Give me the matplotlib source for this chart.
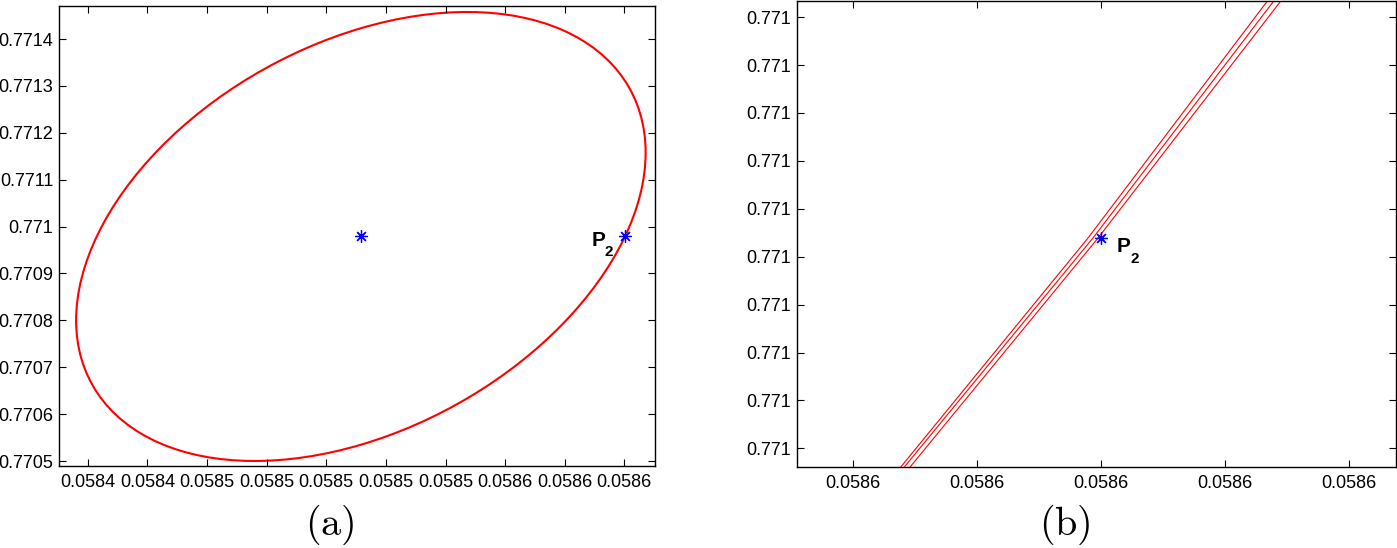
import numpy as np
import matplotlib
matplotlib.use('Agg')
import matplotlib.pyplot as plt
from matplotlib.path import Path
from matplotlib.patches import PathPatch
from matplotlib.transforms import Affine2D
from matplotlib.ticker import FuncFormatter

plt.rcParams['font.family'] = ['Liberation Sans', 'DejaVu Sans']
plt.rcParams['mathtext.fontset'] = 'cm'

# panel (a): ellipse given by centre and shape matrix (unit circle -> ellipse)
ell_center = [0.0585116, 0.7709789]
ell_shape = [[9.554e-5, 0.0],
             [1.789e-4, 4.442e-4]]
centre_pt = [0.0585116, 0.7709789]
p2_pt = [0.0586002, 0.7709789]

xa_ticks = [0.05842, 0.05844, 0.05846, 0.05848, 0.05850,
            0.05852, 0.05854, 0.05856, 0.05858, 0.05860]
ya_ticks = [0.7705, 0.7706, 0.7707, 0.7708, 0.7709,
            0.7710, 0.7711, 0.7712, 0.7713, 0.7714]
xa_lim = [0.0584103, 0.0586103]
ya_lim = [0.7704893, 0.7714706]

# panel (b): close-up around P2, three nearly overlapping traces
line_x = [[0.05860018385, 0.05860019895, 0.05860021336],
          [0.05860018414, 0.05860019935, 0.05860021387],
          [0.05860018460, 0.05860019976, 0.05860021444]]
line_y = [0.7709787084, 0.7709788996, 0.7709790967]

xb_ticks = [0.05860018, 0.05860019, 0.05860020, 0.05860021, 0.05860022]
yb_ticks = [0.770978724, 0.770978764, 0.770978804, 0.770978844, 0.770978884,
            0.770978924, 0.770978964, 0.770979004, 0.770979044, 0.770979084]
xb_lim = [0.05860017548, 0.05860022379]
yb_lim = [0.7709787084, 0.7709790975]

fmt = FuncFormatter(lambda v, p: f'{v:.4f}'.rstrip('0'))
star = (8, 2, 0)


def style_axes(ax, xt, yt, xl, yl):
    ax.set_xticks(xt)
    ax.set_yticks(yt)
    ax.set_xlim(xl)
    ax.set_ylim(yl)
    ax.xaxis.set_major_formatter(fmt)
    ax.yaxis.set_major_formatter(fmt)
    ax.tick_params(direction='in', top=True, right=True, length=5, width=0.8,
                   labelsize=13)
    ax.tick_params(axis='y', pad=4)
    ax.tick_params(axis='x', pad=6)
    for s in ax.spines.values():
        s.set_linewidth(1.0)


def label_p2(ax, pt, dp, d2):
    ax.annotate('P', xy=pt, xytext=dp, textcoords='offset points',
                ha='left', va='baseline', fontsize=15, fontweight='bold')
    ax.annotate('2', xy=pt, xytext=d2, textcoords='offset points',
                ha='left', va='baseline', fontsize=11, fontweight='bold')


fig = plt.figure(figsize=(13.97, 5.48), dpi=100)
ax1 = fig.add_axes([0.0422, 0.1496, 0.4267, 0.8395])
ax2 = fig.add_axes([0.5705, 0.1478, 0.4288, 0.8504])

# (a)
m = np.array([[ell_shape[0][0], ell_shape[0][1], ell_center[0]],
              [ell_shape[1][0], ell_shape[1][1], ell_center[1]],
              [0, 0, 1]])
patch = PathPatch(Path.unit_circle(), transform=Affine2D(m) + ax1.transData,
                  facecolor='none', edgecolor='red', lw=1.5)
ax1.add_patch(patch)
ax1.plot(*centre_pt, marker=star, color='blue', ms=9, mew=0.9)
ax1.plot(*p2_pt, marker=star, color='blue', ms=9, mew=0.9)
label_p2(ax1, p2_pt, (-24, -6.5), (-14.4, -13.7))
style_axes(ax1, xa_ticks, ya_ticks, xa_lim, ya_lim)

# (b)
for xs in line_x:
    ax2.plot(xs, line_y, color='red', lw=0.8)
ax2.plot(*p2_pt, marker=star, color='blue', ms=9, mew=0.9)
label_p2(ax2, p2_pt, (11.5, -10.6), (20.9, -18.5))
style_axes(ax2, xb_ticks, yb_ticks, xb_lim, yb_lim)

fig.text(330 / 1397, 1 - 525 / 548, r'$\mathrm{(a)}$', fontsize=29,
         ha='center', va='center')
fig.text(1065 / 1397, 1 - 525 / 548, r'$\mathrm{(b)}$', fontsize=29,
         ha='center', va='center')

fig.savefig('out.png', dpi=100)
